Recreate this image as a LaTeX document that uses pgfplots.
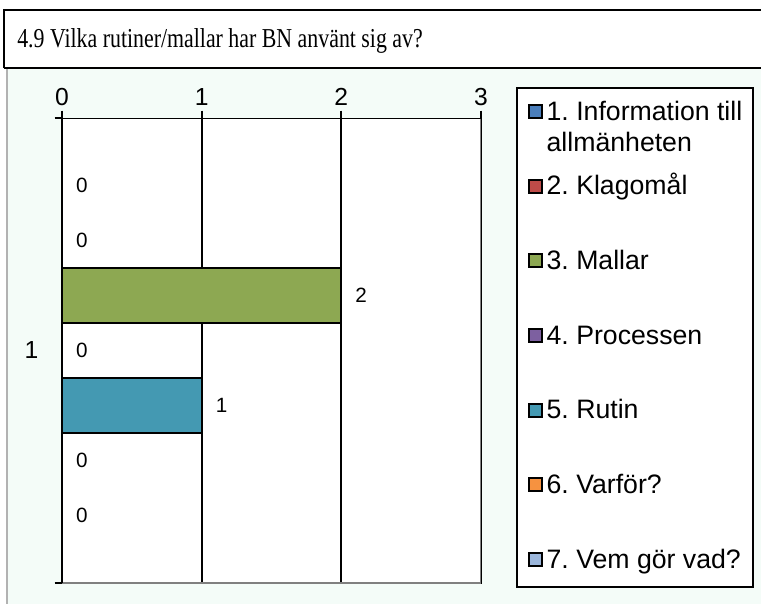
\documentclass[border=0pt]{standalone}
\usepackage{fontspec}
\setmainfont{Liberation Sans}
\newfontfamily\titlefont{Liberation Serif}
\usepackage{graphicx}
\usepackage{pgfplots}
\pgfplotsset{compat=1.18}
\frenchspacing

\definecolor{bgmint}{HTML}{F4FCF8}
\definecolor{sOne}{HTML}{4A7EBB}
\definecolor{sTwo}{HTML}{BE4B48}
\definecolor{sThree}{HTML}{8DA852}
\definecolor{sFour}{HTML}{7D60A0}
\definecolor{sFive}{HTML}{4499B2}
\definecolor{sSix}{HTML}{F69240}
\definecolor{sSeven}{HTML}{9BB6DB}

\begin{document}
\begin{tikzpicture}
% page grid in pixels of the reference, origin top-left
\begin{scope}[x=0.75pt,y=-0.75pt]
\useasboundingbox (0,0) rectangle (761,604);
\fill[bgmint] (7,68) rectangle (761,604);
\draw[gray!60, line width=1pt] (7,68) -- (7,604);
\fill[white] (4,10) rectangle (765,68);
\draw[black, line width=1.5pt] (4,68) -- (4,10) -- (765,10);
\draw[black, line width=1.5pt] (4,68) -- (765,68);
\node[anchor=base west, inner sep=0pt, font=\titlefont\fontsize{20.5}{24}\selectfont]
  at (17,47) {\scalebox{0.8}[1]{4.9 Vilka rutiner/mallar har BN använt sig av?}};
\end{scope}

\begin{axis}[
    at={(46.5pt,-437.25pt)}, anchor=south west,
    scale only axis, width=314.25pt, height=348.75pt,
    xmin=0, xmax=3, ymin=0.5, ymax=1.5,
    xtick={0,1,2,3}, xtick pos=top, xticklabel pos=top,
    ytick={0.5,1.5}, yticklabels={,}, ytick pos=left,
    extra y ticks={1}, extra y tick labels={1},
    extra y tick style={major tick length=0pt, yticklabel style={xshift=-14.25pt}},
    tick align=outside, major tick length=5.5pt,
    tick style={black, line width=1.5pt},
    xmajorgrids, grid style={black, line width=1.5pt},
    axis background/.style={fill=white},
    ticklabel style={font=\fontsize{18.5}{21}\selectfont},
    /pgf/number format/assume math mode=true,
    xbar, bar width=41.25pt,
    nodes near coords,
    nodes near coords style={font=\fontsize{15.5}{18}\selectfont, anchor=west, xshift=6.5pt, black},
    legend image code/.code={\draw[#1, draw=black, line width=1.5pt] (0pt,-1.875pt) rectangle (9.75pt,7.875pt);},
    legend cell align=left,
    legend style={at={(axis description cs:1.0835,1.0667)}, anchor=north west,
        draw=black, line width=1.5pt, fill=white,
        font=\fontsize{20}{23.25}\selectfont,
        inner xsep=8pt, inner ysep=12pt, row sep=41.9pt, column sep=3pt,
        nodes={inner sep=0pt, text height=0.9em, text depth=0.2em}},
]
\addplot[fill=sOne, draw=black, line width=1.5pt, bar shift=123.75pt] coordinates {(0,1)};
\addlegendentry{\begin{tabular}[t]{@{}l@{}}1. Information till\\allmänheten\end{tabular}}
\addplot[fill=sTwo, draw=black, line width=1.5pt, bar shift=82.5pt] coordinates {(0,1)};
\addlegendentry{2. Klagomål}
\addplot[fill=sThree, draw=black, line width=1.5pt, bar shift=41.25pt] coordinates {(2,1)};
\addlegendentry{3. Mallar}
\addplot[fill=sFour, draw=black, line width=1.5pt, bar shift=0pt] coordinates {(0,1)};
\addlegendentry{4. Processen}
\addplot[fill=sFive, draw=black, line width=1.5pt, bar shift=-41.25pt] coordinates {(1,1)};
\addlegendentry{5. Rutin}
\addplot[fill=sSix, draw=black, line width=1.5pt, bar shift=-82.5pt] coordinates {(0,1)};
\addlegendentry{6. Varför?}
\addplot[fill=sSeven, draw=black, line width=1.5pt, bar shift=-123.75pt] coordinates {(0,1)};
\addlegendentry{7. Vem gör vad?}
% frame: gray right/bottom, black left/top
\draw[gray, line width=1.5pt] (rel axis cs:1,1) -- (rel axis cs:1,0) -- (rel axis cs:0,0);
\draw[black, line width=1.75pt] (rel axis cs:0,0) -- (rel axis cs:0,1) -- (rel axis cs:1,1);
\end{axis}
\end{tikzpicture}
\end{document}
